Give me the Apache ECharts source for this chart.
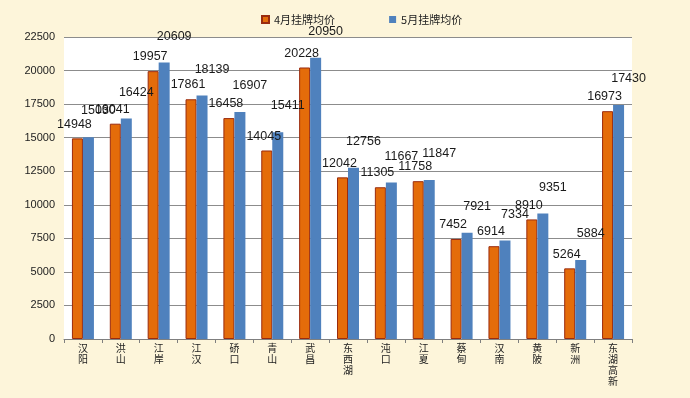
<html>
<head>
<meta charset="utf-8"/>
<title>ECharts</title>
<script src="https://cdn.jsdelivr.net/npm/echarts@6/dist/echarts.min.js"></script>
<style>
  body { margin: 0; padding: 0; background: #FDF5DA; }
  #chart { width: 690px; height: 398px; }
</style>
</head>
<body>
<div id="chart"></div>
<script type="text/javascript">
let districts = ['汉阳', '洪山', '江岸', '江汉', '硚口', '青山', '武昌', '东西湖', '沌口', '江夏', '蔡甸', '汉南', '黄陂', '新洲', '东湖高新'];
let aprilPrice = [14948, 16041, 19957, 17861, 16458, 14045, 20228, 12042, 11305, 11758, 7452, 6914, 8910, 5264, 16973];
let mayPrice = [15030, 16424, 20609, 18139, 16907, 15411, 20950, 12756, 11667, 11847, 7921, 7334, 9351, 5884, 17430];
let seriesNames = ['4月挂牌均价', '5月挂牌均价'];

let chart = echarts.init(document.getElementById('chart'));

let labelFont = {
  fontFamily: 'Liberation Sans, Noto Sans CJK SC',
  fontSize: 12.5,
  color: '#1a1a1a'
};

chart.setOption({
  backgroundColor: '#FDF5DA',
  animation: false,
  textStyle: { fontFamily: 'Liberation Sans, Noto Sans CJK SC' },
  legend: {
    top: 9,
    left: 256,
    itemWidth: 7,
    itemHeight: 7,
    itemGap: 54,
    icon: 'rect',
    textStyle: { fontSize: 11, color: '#222', fontFamily: 'Noto Sans CJK SC' },
    data: seriesNames
  },
  grid: {
    left: 64,
    right: 58,
    top: 37,
    bottom: 59,
    show: true,
    backgroundColor: '#ffffff',
    borderWidth: 0
  },
  xAxis: {
    type: 'category',
    data: districts,
    axisLine: { lineStyle: { color: '#7f7f7f' } },
    axisTick: { show: true, length: 4, lineStyle: { color: '#7f7f7f' } },
    axisLabel: {
      interval: 0,
      margin: 4,
      fontSize: 10,
      lineHeight: 11,
      color: '#222',
      fontFamily: 'Noto Sans CJK SC',
      formatter: (v) => v.split('').join('\n')
    }
  },
  yAxis: {
    type: 'value',
    min: 0,
    max: 22500,
    interval: 2500,
    axisLine: { show: false },
    axisTick: { show: false },
    axisLabel: { fontSize: 11, color: '#222', margin: 9, formatter: (v) => String(v) },
    splitLine: { lineStyle: { color: '#8c8c8c' } }
  },
  series: [
    {
      name: seriesNames[0],
      type: 'bar',
      data: aprilPrice,
      barWidth: 11,
      barGap: '0%',
      itemStyle: { color: '#E46C0A', borderColor: '#9A2B0E', borderWidth: 1 },
      label: Object.assign({ show: true, position: 'top', offset: [-3, -3] }, labelFont)
    },
    {
      name: seriesNames[1],
      type: 'bar',
      data: mayPrice,
      barWidth: 11,
      itemStyle: { color: '#4F81BD' },
      label: Object.assign({ show: true, position: 'top', offset: [10, -15] }, labelFont)
    }
  ]
});
</script>
</body>
</html>
